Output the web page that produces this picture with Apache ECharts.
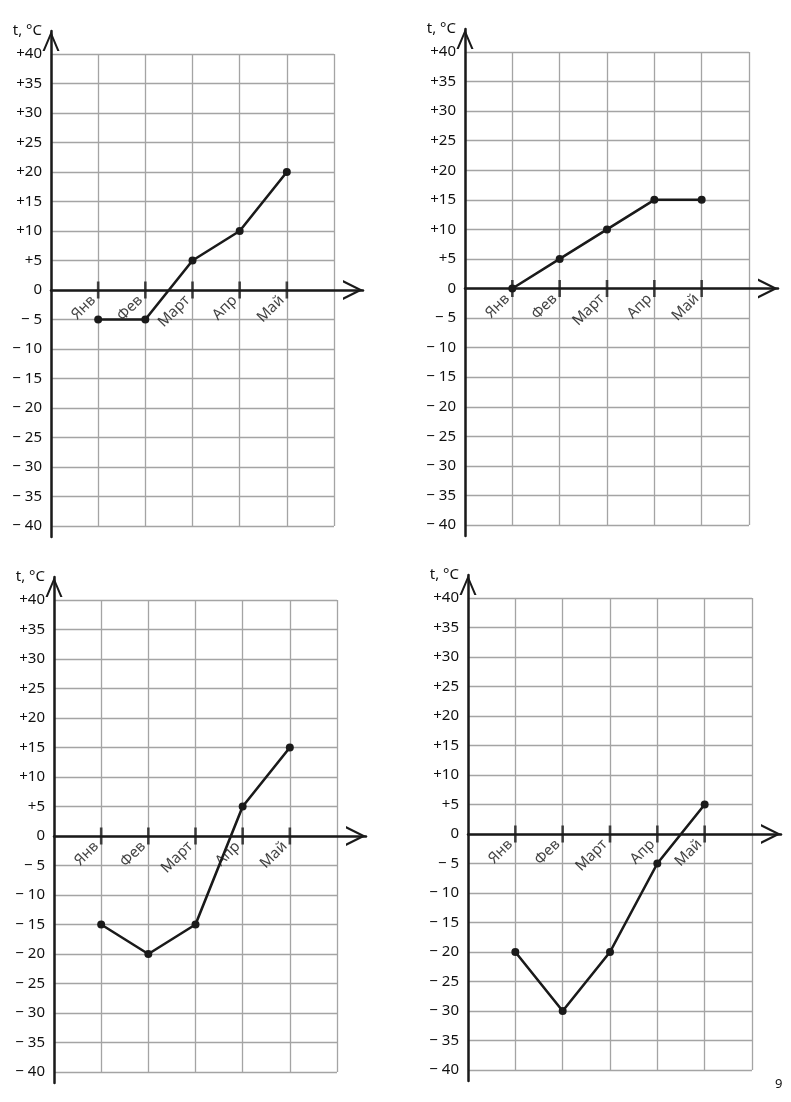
<!DOCTYPE html>
<html>
<head>
<meta charset="utf-8">
<script src="https://cdn.jsdelivr.net/npm/echarts@6/dist/echarts.min.js"></script>
<style>
html,body{margin:0;padding:0;background:#fff;}
#chart{width:791px;height:1102px;}
</style>
</head>
<body>
<div id="chart"></div>
<script>
// ---- data ----
const months = ['Янв', 'Фев', 'Март', 'Апр', 'Май'];
const temps1 = [-5, -5, 5, 10, 20];
const temps2 = [0, 5, 10, 15, 15];
const temps3 = [-15, -20, -15, 5, 15];
const temps4 = [-20, -30, -20, -5, 5];
const yMin = -40, yMax = 40, yStep = 5;
const axisTitle = 't, °C';
const pageNumber = '9';

// ---- layout / style ----
const panels = [
  {left: 51, top: 54, width: 283, height: 472, vals: temps1},
  {left: 465, top: 52, width: 284, height: 473, vals: temps2},
  {left: 54, top: 600, width: 283, height: 472, vals: temps3},
  {left: 468, top: 598, width: 284, height: 472, vals: temps4}
];
const INK = '#1a1a1a';
const TEXT = '#111';
const GRIDC = '#a4a4a4';
const FONT = 'Noto Sans';
const extTop = 23, extBottom = 11, extRight = 29;
const xArrow = 'path://M0,20 L10,0 L20,20 L17.6,20 L10,4.9 L2.4,20 Z';
const yArrow = 'path://M0,20 L8.5,0 L17,20 L14.8,20 L8.5,5 L2.2,20 Z';
const tickW = 2.6, tickH = 17;

function fmtY(v) {
  if (v > 0) return '+' + v;
  if (v < 0) return '\u2212 ' + (-v);
  return '0';
}

const grid = [], xAxis = [], yAxis = [], series = [];
panels.forEach((p, i) => {
  const nCols = months.length + 1;
  const unitX = p.width / nCols;
  const unitY = p.height / (yMax - yMin);
  grid.push({left: p.left, top: p.top, width: p.width, height: p.height, outerBoundsMode: 'none', containLabel: false});
  grid.push({left: p.left, top: p.top - extTop, width: p.width + extRight,
             height: p.height + extTop + extBottom, outerBoundsMode: 'none', containLabel: false});
  const a = 2 * i, b = 2 * i + 1;
  xAxis.push({gridIndex: a, type: 'value', min: 0, max: nCols, interval: 1,
    axisLine: {show: false}, axisTick: {show: false}, axisLabel: {show: false},
    splitLine: {show: true, lineStyle: {color: GRIDC, width: 1.3}}});
  yAxis.push({gridIndex: a, type: 'value', min: yMin, max: yMax, interval: yStep,
    axisLine: {show: false}, axisTick: {show: false},
    axisLabel: {show: true, formatter: fmtY, color: TEXT, fontSize: 15, fontFamily: FONT, margin: 9},
    splitLine: {show: true, lineStyle: {color: GRIDC, width: 1.3}},
    name: axisTitle, nameLocation: 'end', nameGap: 23,
    nameTextStyle: {align: 'right', verticalAlign: 'middle', color: TEXT, fontSize: 15, fontFamily: FONT, padding: [0, 9, 0, 0]}});
  xAxis.push({gridIndex: b, type: 'value', min: 0, max: nCols + extRight / unitX, interval: 1,
    axisLine: {show: true, onZero: true, lineStyle: {color: INK, width: 2.5},
      symbol: ['none', xArrow], symbolSize: [20, 20], symbolOffset: [0, -10]},
    axisTick: {show: false}, splitLine: {show: false}, axisLabel: {show: false}});
  yAxis.push({gridIndex: b, type: 'value', min: yMin - extBottom / unitY, max: yMax + extTop / unitY,
    axisLine: {show: true, onZero: false, lineStyle: {color: INK, width: 2.5},
      symbol: ['none', yArrow], symbolSize: [17, 20], symbolOffset: [0, -10]},
    axisTick: {show: false}, axisLabel: {show: false}, splitLine: {show: false}});
  series.push({type: 'scatter', xAxisIndex: b, yAxisIndex: b, silent: true, z: 3,
    symbol: 'rect', symbolSize: [tickW, tickH], itemStyle: {color: INK},
    label: {show: true, formatter: d => months[d.dataIndex],
      position: [tickW / 2 - 5, tickH / 2 + 8], rotate: 45, align: 'right', verticalAlign: 'middle',
      color: TEXT, fontSize: 15, fontFamily: FONT},
    data: months.map((m, k) => [k + 1, 0])});
  series.push({type: 'line', xAxisIndex: b, yAxisIndex: b, z: 4, silent: true,
    symbol: 'circle', symbolSize: 8, showSymbol: true,
    lineStyle: {color: INK, width: 2.6}, itemStyle: {color: INK},
    data: p.vals.map((v, k) => [k + 1, v])});
});

const chart = echarts.init(document.getElementById('chart'), null, {renderer: 'canvas'});
chart.setOption({
  animation: false,
  backgroundColor: '#fff',
  grid, xAxis, yAxis, series,
  graphic: [{type: 'text', left: 775, top: 1078,
    style: {text: pageNumber, fontSize: 13, fontFamily: FONT, fill: TEXT}}]
});
</script>
</body>
</html>
